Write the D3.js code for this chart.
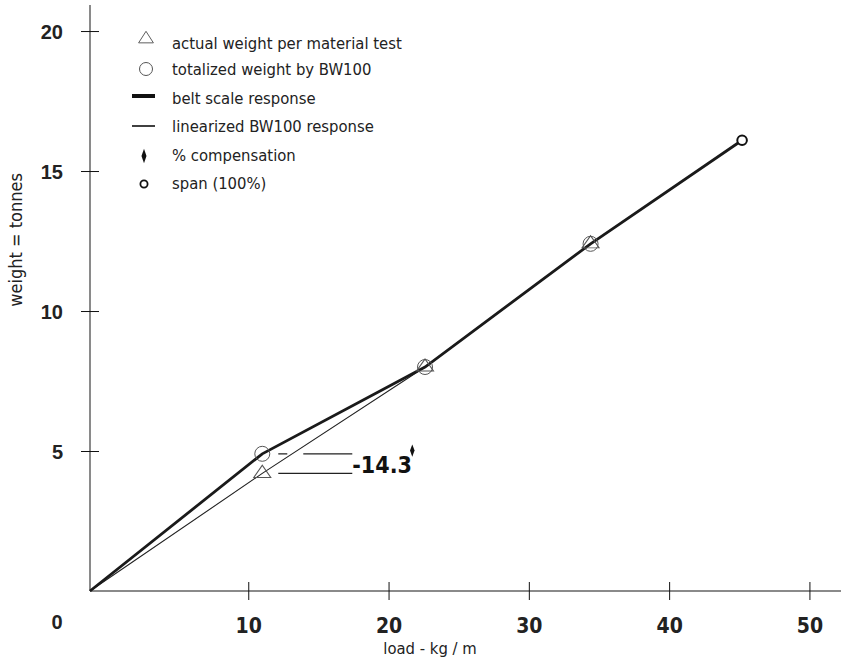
<!DOCTYPE html>
<html>
<head>
<meta charset="utf-8">
<script src="https://cdn.jsdelivr.net/npm/d3@7"></script>
<style>
  body { margin: 0; background: #fff; }
  svg { display: block; }
</style>
</head>
<body>
<div id="chart"></div>
<script>
// data
var loadKg = [11.0, 22.6, 34.4];          // material test points, kg/m
var actualWeight = [4.2, 8.0, 12.4];      // triangles
var totalizedWeight = [4.9, 8.0, 12.4];   // circles
var spanPoint = [45.2, 16.1];             // span (100%)
var xTicks = [10, 20, 30, 40, 50];
var yTicks = [5, 10, 15, 20];
var compensationLabel = "-14.3";
var legendItems = [
  "actual weight per material test",
  "totalized weight by BW100",
  "belt scale response",
  "linearized BW100 response",
  "% compensation",
  "span (100%)"
];

var W = 841, H = 663;
var narrow = "'Liberation Sans Narrow', 'DejaVu Sans Condensed', 'Roboto Condensed', sans-serif";
var wide = "'Liberation Sans', Arial, Helvetica, sans-serif";

var svg = d3.select("#chart").append("svg")
  .attr("width", W)
  .attr("height", H);

var x = d3.scaleLinear().domain([-1.28, 52.25]).range([90, 841]);
var y = d3.scaleLinear().domain([0, 20.93]).range([591, 5]);

// axes lines (grey)
svg.append("line")
  .attr("x1", x.range()[0]).attr("x2", x.range()[1])
  .attr("y1", y(0)).attr("y2", y(0))
  .attr("stroke", "#8a8a8a").attr("stroke-width", 2);
svg.append("line")
  .attr("x1", x.range()[0]).attr("x2", x.range()[0])
  .attr("y1", y.range()[0]).attr("y2", y.range()[1])
  .attr("stroke", "#8a8a8a").attr("stroke-width", 2);

// x ticks
var xAx = svg.append("g")
  .attr("transform", "translate(0," + (y(0) + 9) + ")")
  .call(d3.axisBottom(x).tickValues(xTicks).tickSize(18).tickPadding(14).tickFormat(d3.format("d")));
xAx.select(".domain").remove();
xAx.selectAll(".tick line").attr("y1", -18).attr("y2", 0).attr("stroke", "#111");
xAx.selectAll("text")
  .attr("font-family", narrow).attr("font-weight", "bold")
  .attr("font-size", 21).attr("fill", "#222")
  .attr("y", 18);

// y ticks
var yAx = svg.append("g")
  .attr("transform", "translate(" + (x.range()[0] + 9) + ",0)")
  .call(d3.axisLeft(y).tickValues(yTicks).tickSize(18).tickPadding(0).tickFormat(d3.format("d")));
yAx.select(".domain").remove();
yAx.selectAll(".tick line").attr("stroke", "#111");
yAx.selectAll("text")
  .attr("font-family", wide).attr("font-weight", "bold")
  .attr("font-size", 20).attr("fill", "#222")
  .attr("x", -36).attr("dy", "0.35em");

// corner zero
svg.append("text")
  .attr("x", 57).attr("y", y(0) + 38)
  .attr("text-anchor", "middle")
  .attr("font-family", wide).attr("font-weight", "bold")
  .attr("font-size", 20).attr("fill", "#222")
  .text("0");

// axis titles
svg.append("text")
  .attr("x", 430).attr("y", 654)
  .attr("text-anchor", "middle")
  .attr("font-family", narrow).attr("font-size", 16.5).attr("fill", "#222")
  .text("load - kg / m");
svg.append("text")
  .attr("transform", "translate(22,240) rotate(-90)")
  .attr("text-anchor", "middle")
  .attr("font-family", narrow).attr("font-size", 18).attr("fill", "#222")
  .text("weight = tonnes");

// line data: start at the axes corner
var corner = [x.domain()[0], 0];
var beltLine = [corner].concat(loadKg.map(function(d, i) { return [d, totalizedWeight[i]]; }), [spanPoint]);
var linLine = [corner].concat(loadKg.map(function(d, i) { return [d, actualWeight[i]]; }), [spanPoint]);

var line = d3.line()
  .x(function(d) { return x(d[0]); })
  .y(function(d) { return y(d[1]); });

svg.append("path")
  .datum(linLine)
  .attr("fill", "none")
  .attr("stroke", "#222")
  .attr("stroke-width", 1.1)
  .attr("d", line);

svg.append("path")
  .datum(beltLine)
  .attr("fill", "none")
  .attr("stroke", "#1a1a1a")
  .attr("stroke-width", 2.8)
  .attr("d", line);

// annotation lines for compensation
var ax0 = x(loadKg[0]) + 16, ax1 = x(loadKg[0]) + 90;
svg.append("line")
  .attr("x1", ax0).attr("x2", ax1)
  .attr("y1", y(totalizedWeight[0])).attr("y2", y(totalizedWeight[0]))
  .attr("stroke", "#222").attr("stroke-width", 1.2)
  .attr("stroke-dasharray", "9,16,200");
svg.append("line")
  .attr("x1", ax0).attr("x2", ax1)
  .attr("y1", y(actualWeight[0])).attr("y2", y(actualWeight[0]))
  .attr("stroke", "#222").attr("stroke-width", 1.2);

var labY = (y(totalizedWeight[0]) + y(actualWeight[0])) / 2;
svg.append("text")
  .attr("x", ax1).attr("y", labY + 9)
  .attr("font-family", narrow).attr("font-weight", "bold")
  .attr("font-size", 23).attr("fill", "#111")
  .text(compensationLabel);
svg.append("path")
  .attr("d", d3.symbol().type(d3.symbolDiamond).size(22))
  .attr("transform", "translate(" + (ax1 + 60) + "," + (labY - 13) + ") scale(0.9,1.4)")
  .attr("fill", "#111");

// markers
var tri = d3.symbol().type(d3.symbolTriangle).size(95);
svg.selectAll(".tri")
  .data(loadKg)
  .enter().append("path")
  .attr("class", "tri")
  .attr("d", tri)
  .attr("transform", function(d, i) { return "translate(" + x(d) + "," + y(actualWeight[i]) + ") scale(1.15,0.95)"; })
  .attr("fill", "none").attr("stroke", "#555").attr("stroke-width", 1);

svg.selectAll(".circ")
  .data(loadKg)
  .enter().append("circle")
  .attr("class", "circ")
  .attr("cx", function(d) { return x(d); })
  .attr("cy", function(d, i) { return y(totalizedWeight[i]); })
  .attr("r", 7.5)
  .attr("fill", "none").attr("stroke", "#555").attr("stroke-width", 1);

svg.append("circle")
  .attr("cx", x(spanPoint[0])).attr("cy", y(spanPoint[1]))
  .attr("r", 4.8)
  .attr("fill", "#fff").attr("stroke", "#111").attr("stroke-width", 2);

// legend
var legY = [43, 69, 98, 126, 155, 183];
var leg = svg.append("g");
leg.selectAll("text")
  .data(legendItems)
  .enter().append("text")
  .attr("x", 172)
  .attr("y", function(d, i) { return legY[i] + 6; })
  .attr("font-family", narrow).attr("font-size", 16.5).attr("fill", "#222")
  .text(function(d) { return d; });

leg.append("path")
  .attr("d", tri)
  .attr("transform", "translate(146," + (legY[0] - 4) + ") scale(1.0,0.9)")
  .attr("fill", "none").attr("stroke", "#555").attr("stroke-width", 1);
leg.append("circle")
  .attr("cx", 146).attr("cy", legY[1])
  .attr("r", 6.5)
  .attr("fill", "none").attr("stroke", "#555").attr("stroke-width", 1);
leg.append("line")
  .attr("x1", 132).attr("x2", 155).attr("y1", legY[2] - 2).attr("y2", legY[2] - 2)
  .attr("stroke", "#111").attr("stroke-width", 4);
leg.append("line")
  .attr("x1", 132).attr("x2", 155).attr("y1", legY[3]).attr("y2", legY[3])
  .attr("stroke", "#111").attr("stroke-width", 1.6);
leg.append("path")
  .attr("d", d3.symbol().type(d3.symbolDiamond).size(30))
  .attr("transform", "translate(144," + (legY[4] + 1) + ") scale(0.85,1.4)")
  .attr("fill", "#111");
leg.append("circle")
  .attr("cx", 144).attr("cy", legY[5] + 1)
  .attr("r", 3.6)
  .attr("fill", "#fff").attr("stroke", "#111").attr("stroke-width", 1.8);
</script>
</body>
</html>
